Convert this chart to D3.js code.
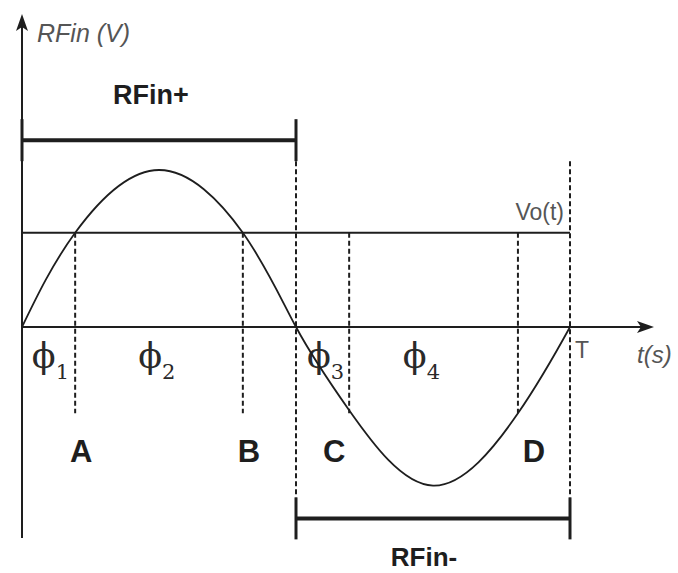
<!DOCTYPE html>
<html>
<head>
<meta charset="utf-8">
<script src="https://cdn.jsdelivr.net/npm/d3@7/dist/d3.min.js"></script>
<style>
  body { margin: 0; background: #fff; }
  svg { display: block; }
</style>
</head>
<body>
<div id="chart"></div>
<script>
// One period of RFin (t as fraction of T, v relative to peak)
const waveT = [0, 0.097, 0.25, 0.403, 0.5, 0.597, 0.75, 0.905, 1];
const waveV = [0, 0.6, 1, 0.6, 0, -0.53, -1.01, -0.55, 0];

// Vo(t) level and the crossing points
const voLevel = 0.6;
const markT = [0.097, 0.403, 0.597, 0.905];
const markLabels = ["A", "B", "C", "D"];
const markLow = -0.55;

// phase labels
const phaseT = [0.018, 0.212, 0.52, 0.695];
const phaseSubs = ["1", "2", "3", "4"];

// half-period brackets
const halfStart = [0, 0.5];
const halfEnd = [0.5, 1];
const halfLabels = ["RFin+", "RFin-"];
const halfLevel = [1.19, -1.219];

const width = 678, height = 573;

const svg = d3.select("#chart").append("svg")
  .attr("width", width)
  .attr("height", height);

const x = d3.scaleLinear().domain([0, 1]).range([22, 570]);
const y = d3.scaleLinear().domain([-1, 1]).range([484, 170]);

const ink = "#1e1e1e";
const grey = "#555";

// axes
svg.append("line")
  .attr("x1", x(0)).attr("x2", x(0))
  .attr("y1", 538).attr("y2", 22)
  .attr("stroke", ink).attr("stroke-width", 2);
svg.append("path")
  .attr("d", `M${x(0)},14 L${x(0) + 6},31 L${x(0)},27 L${x(0) - 6},31 Z`)
  .attr("fill", ink);

svg.append("line")
  .attr("x1", x(0)).attr("x2", 645)
  .attr("y1", y(0)).attr("y2", y(0))
  .attr("stroke", ink).attr("stroke-width", 2);
svg.append("path")
  .attr("d", `M654,${y(0)} L637,${y(0) - 6} L641,${y(0)} L637,${y(0) + 6} Z`)
  .attr("fill", ink);

// axis titles
svg.append("text")
  .attr("x", 37).attr("y", 42)
  .attr("font-family", "Liberation Sans, Arial, sans-serif")
  .attr("font-style", "italic")
  .attr("font-size", 25)
  .attr("fill", grey)
  .text("RFin (V)");

svg.append("text")
  .attr("x", 637).attr("y", 363)
  .attr("font-family", "Liberation Sans, Arial, sans-serif")
  .attr("font-style", "italic")
  .attr("font-size", 24)
  .attr("fill", grey)
  .text("t(s)");

svg.append("text")
  .attr("x", 575).attr("y", 358)
  .attr("font-family", "Liberation Sans, Arial, sans-serif")
  .attr("font-size", 23)
  .attr("fill", grey)
  .text("T");

// Vo(t) level
svg.append("line")
  .attr("x1", x(0)).attr("x2", x(1))
  .attr("y1", y(voLevel)).attr("y2", y(voLevel))
  .attr("stroke", ink).attr("stroke-width", 2);
svg.append("text")
  .attr("x", x(1) - 6).attr("y", y(voLevel) - 13)
  .attr("text-anchor", "end")
  .attr("font-family", "Liberation Sans, Arial, sans-serif")
  .attr("font-size", 23)
  .attr("fill", grey)
  .text("Vo(t)");

// dashed markers A-D
svg.selectAll(".mark")
  .data(markT)
  .enter().append("line")
  .attr("class", "mark")
  .attr("x1", d => x(d)).attr("x2", d => x(d))
  .attr("y1", y(voLevel)).attr("y2", y(markLow))
  .attr("stroke", ink).attr("stroke-width", 2)
  .attr("stroke-dasharray", "5,3");

svg.selectAll(".markLabel")
  .data(markT)
  .enter().append("text")
  .attr("class", "markLabel")
  .attr("x", (d, i) => x(d) + (i === 2 ? -15 : (i === 3 ? 16 : 6)))
  .attr("y", 462)
  .attr("text-anchor", "middle")
  .attr("font-family", "Liberation Sans, Arial, sans-serif")
  .attr("font-weight", "bold")
  .attr("font-size", 31)
  .attr("fill", ink)
  .text((d, i) => markLabels[i]);

// half-period dashed dividers
const tickHalf = 21;
svg.selectAll(".divider")
  .data(halfEnd)
  .enter().append("line")
  .attr("class", "divider")
  .attr("x1", d => x(d)).attr("x2", d => x(d))
  .attr("y1", y(halfLevel[0]) + tickHalf).attr("y2", y(halfLevel[1]) - tickHalf)
  .attr("stroke", ink).attr("stroke-width", 2)
  .attr("stroke-dasharray", "5,3");

// brackets RFin+ / RFin-
const brackets = svg.selectAll(".bracket")
  .data(halfLabels)
  .enter().append("g")
  .attr("class", "bracket");

brackets.append("line")
  .attr("x1", (d, i) => x(halfStart[i])).attr("x2", (d, i) => x(halfEnd[i]))
  .attr("y1", (d, i) => y(halfLevel[i])).attr("y2", (d, i) => y(halfLevel[i]))
  .attr("stroke", ink).attr("stroke-width", 4);
brackets.append("line")
  .attr("x1", (d, i) => x(halfStart[i])).attr("x2", (d, i) => x(halfStart[i]))
  .attr("y1", (d, i) => y(halfLevel[i]) - tickHalf).attr("y2", (d, i) => y(halfLevel[i]) + tickHalf)
  .attr("stroke", ink).attr("stroke-width", 3);
brackets.append("line")
  .attr("x1", (d, i) => x(halfEnd[i])).attr("x2", (d, i) => x(halfEnd[i]))
  .attr("y1", (d, i) => y(halfLevel[i]) - tickHalf).attr("y2", (d, i) => y(halfLevel[i]) + tickHalf)
  .attr("stroke", ink).attr("stroke-width", 3);
brackets.append("text")
  .attr("x", (d, i) => (x(halfStart[i]) + x(halfEnd[i])) / 2 + (i === 0 ? -8 : -9))
  .attr("y", (d, i) => i === 0 ? 104 : 566)
  .attr("text-anchor", "middle")
  .attr("font-family", "Liberation Sans, Arial, sans-serif")
  .attr("font-weight", "bold")
  .attr("font-size", (d, i) => i === 0 ? 27 : 26)
  .attr("fill", ink)
  .text(d => d);

// phase labels
const phases = svg.selectAll(".phase")
  .data(phaseT)
  .enter().append("text")
  .attr("class", "phase")
  .attr("x", d => x(d))
  .attr("y", 368)
  .attr("font-family", "DejaVu Serif, serif")
  .attr("fill", "#2a2a2a");
phases.append("tspan")
  .attr("font-size", 35)
  .text("\u03D5");
phases.append("tspan")
  .attr("font-size", 21)
  .attr("dy", 11)
  .text((d, i) => phaseSubs[i]);

// the wave
const wave = waveT.map((t, i) => ({ t: t, v: waveV[i] }));
svg.append("path")
  .datum(wave)
  .attr("d", d3.line().x(d => x(d.t)).y(d => y(d.v)).curve(d3.curveNatural))
  .attr("fill", "none")
  .attr("stroke", ink)
  .attr("stroke-width", 1.8);
</script>
</body>
</html>
